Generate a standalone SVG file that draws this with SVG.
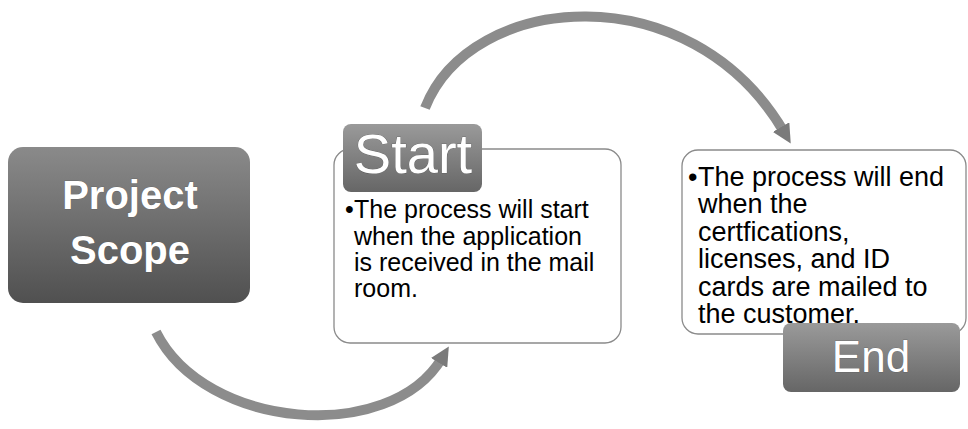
<svg xmlns="http://www.w3.org/2000/svg" width="968" height="429" viewBox="0 0 968 429">
<style>
.card{fill:#ffffff;stroke:#8a8a8a;stroke-width:1.3}
.body{font-family:"Liberation Sans",Arial,sans-serif;fill:#000}
.lbl{font-family:"Liberation Sans",Arial,sans-serif;fill:#ffffff;text-anchor:middle;stroke:#555;stroke-width:0.6;paint-order:stroke}
.arc{fill:none;stroke:#8c8c8c;stroke-width:10}
</style>
<defs>
<linearGradient id="g1" x1="0" y1="0" x2="0" y2="1">
<stop offset="0" stop-color="#8a8a8a"/>
<stop offset="1" stop-color="#505050"/>
</linearGradient>
<linearGradient id="g2" x1="0" y1="0" x2="0" y2="1">
<stop offset="0" stop-color="#9a9a9a"/>
<stop offset="1" stop-color="#666666"/>
</linearGradient>
<marker id="ah" viewBox="0 0 10 10" refX="3" refY="5" markerWidth="1.9" markerHeight="1.9" orient="auto" markerUnits="strokeWidth">
<path d="M0,0 L10,5 L0,10 Z" fill="#7a7a7a"/>
</marker>
</defs>
<g id="connectors">
<path class="arc" d="M425,108 C470,-8 690,-28 784,132" marker-end="url(#ah)"/>
<path class="arc" d="M156,332 C205,430 390,445 442,358" marker-end="url(#ah)"/>
</g>
<g id="project-scope">
<rect x="8" y="147" width="242" height="156" rx="15" fill="url(#g1)"/>
<text class="lbl" x="130" y="209" font-size="40" font-weight="bold">Project</text>
<text class="lbl" x="130" y="264" font-size="40" font-weight="bold">Scope</text>
</g>
<g id="start">
<rect class="card" x="334" y="149" width="287" height="194" rx="16"/>
<rect x="343" y="124" width="139" height="68" rx="8" fill="url(#g2)"/>
<text class="lbl" x="413" y="173" font-size="56">Start</text>
<text class="body" font-size="25">
<tspan x="345" y="218">•</tspan><tspan x="354" y="218">The process will start</tspan>
<tspan x="354" y="245">when the application</tspan>
<tspan x="354" y="271">is received in the mail</tspan>
<tspan x="354" y="297">room.</tspan>
</text>
</g>
<g id="end">
<rect class="card" x="682" y="150" width="284" height="184" rx="16"/>
<text class="body" font-size="27">
<tspan x="688" y="186">•</tspan><tspan x="698" y="186">The process will end</tspan>
<tspan x="698" y="213">when the</tspan>
<tspan x="698" y="241">certfications,</tspan>
<tspan x="698" y="268">licenses, and ID</tspan>
<tspan x="698" y="296">cards are mailed to</tspan>
<tspan x="698" y="323">the customer.</tspan>
</text>
<rect x="783" y="323" width="177" height="69" rx="8" fill="url(#g2)"/>
<text class="lbl" x="871" y="372" font-size="44">End</text>
</g>
</svg>
